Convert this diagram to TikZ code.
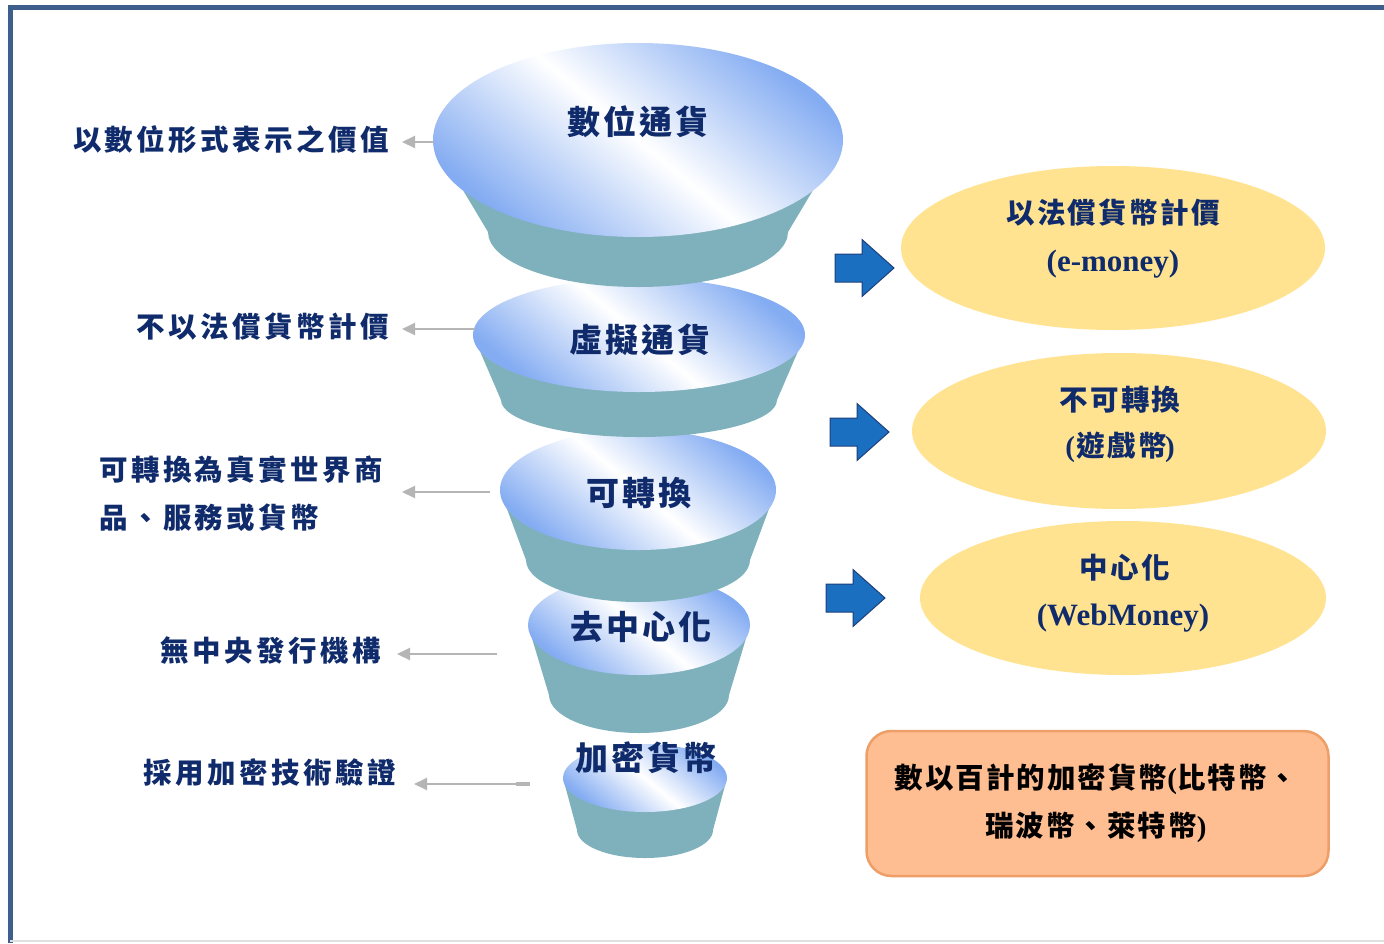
\documentclass[tikz,border=0pt]{standalone}
\usepackage{fontspec}
\setmainfont{Liberation Serif}
\newfontfamily\cjk{Noto Sans CJK TC}
\usetikzlibrary{arrows.meta}
\definecolor{navy}{HTML}{0F2B6B}
\definecolor{frameblue}{HTML}{3E5F8C}
\definecolor{teal1}{HTML}{7FB1BD}
\definecolor{skyb}{HTML}{84ACF2}
\definecolor{arrowblue}{HTML}{1B6FC0}
\definecolor{arrowedge}{HTML}{1F3F7A}
\definecolor{ellyellow}{HTML}{FFE391}
\definecolor{boxfill}{HTML}{FFBD92}
\definecolor{boxedge}{HTML}{EE9F68}
\definecolor{graya}{HTML}{B5B5B5}
\newcommand{\fdisk}[7]{%
  \fill[teal1] (#1-#3,#2) -- (#1-#6,#5) -- (#1+#6,#5) -- (#1+#3,#2) -- cycle;
  \fill[teal1] (#1,#5) ellipse ({#6} and {#7});
  \shade[top color=skyb, bottom color=skyb, middle color=white, shading angle=-40] (#1,#2) ellipse ({#3} and {#4});
}
\tikzset{
  disktxt/.style={font=\cjk\bfseries\fontsize{33}{36}\selectfont\addfontfeature{LetterSpace=9}, text=navy, inner sep=0pt},
  lbl/.style={font=\cjk\bfseries\fontsize{28.5}{48}\selectfont\addfontfeature{LetterSpace=12}, text=navy, inner sep=0pt},
  elltxt/.style={font=\cjk\bfseries\fontsize{28.5}{30}\selectfont\addfontfeature{LetterSpace=8}, text=navy, inner sep=0pt},
  lattxt/.style={font=\bfseries\fontsize{31}{34}\selectfont, text=navy, inner sep=0pt},
  boxtxt/.style={font=\cjk\bfseries\fontsize{28.5}{48}\selectfont\addfontfeature{LetterSpace=7}, text=black, inner sep=0pt, align=center},
  grayarrow/.style={draw=graya, line width=2pt, -{Triangle[length=13pt,width=12pt]}},
  pics/barrow/.style={code={
    \fill[arrowblue, draw=arrowedge, line width=1pt] (0,-14) -- (27,-14) -- (27,-28.5) -- (59,0) -- (27,28.5) -- (27,14) -- (0,14) -- cycle;
  }}
}
\begin{document}
\begin{tikzpicture}[x=1pt,y=-1pt]
\useasboundingbox (0,0) rectangle (1384,943);
\fill[white] (0,0) rectangle (1384,943);
% frame
\draw[frameblue, line width=5pt] (8,7.5) -- (1384,7.5);
\draw[frameblue, line width=5pt] (10.5,5) -- (10.5,943);
\draw[black!12, line width=1.5pt] (10,941) -- (1384,941);

% funnel disks, bottom first
\fdisk{645}{778}{82}{34}{830}{68}{28}
\fdisk{639}{625}{111}{50}{695}{90}{38}
\fdisk{638}{490}{138}{60}{560}{112}{42}
\fdisk{639}{335}{166}{57}{400}{138}{37}
\fdisk{638}{140}{205}{97}{232}{150}{55}

\node[disktxt] (d1) at (638,122) {數位通貨};
\node[disktxt] (d2) at (640,340) {虛擬通貨};
\node[disktxt] (d3) at (639,493) {可轉換};
\node[disktxt] (d4) at (641,627) {去中心化};
\node[disktxt] (d5) at (646,758) {加密貨幣};

% disk left edges (arrow tails) and arrow tips
\coordinate (t1) at (434,142);
\coordinate (t2) at (475,329);
\coordinate (t3) at (490,492);
\coordinate (t4) at (497,654);
\coordinate (t5) at (530,784);
\coordinate (h1) at (402,142);
\coordinate (h2) at (402,329);
\coordinate (h3) at (402,492);
\coordinate (h4) at (397,654);
\coordinate (h5) at (414,784);

% left labels
\node[lbl, anchor=east] (l1) at (389,140) {以數位形式表示之價值};
\node[lbl, anchor=east] (l2) at (389,327) {不以法償貨幣計價};
\node[lbl, anchor=west, align=left] (l3) at (99,494) {可轉換為真實世界商\\品、服務或貨幣};
\node[lbl, anchor=east] (l4) at (381,651) {無中央發行機構};
\node[lbl, anchor=east] (l5) at (396,773) {採用加密技術驗證};

\draw[grayarrow] (t1) -- (h1);
\draw[grayarrow] (t2) -- (h2);
\draw[grayarrow] (t3) -- (h3);
\draw[grayarrow] (t4) -- (h4);
\draw[grayarrow] (t5) -- (h5);
\draw[graya, line width=4.5pt] (t5) -- ++(-14,0);

% blue block arrows
\pic (b1) at (835,268) {barrow};
\pic (b2) at (830,432) {barrow};
\pic (b3) at (826,598) {barrow};

% yellow ellipses
\fill[ellyellow] (1113,248) ellipse (212 and 82);
\fill[ellyellow] (1119,431) ellipse (207 and 78);
\fill[ellyellow] (1123,598) ellipse (203 and 77);
\node[elltxt] (e1a) at (1113,213) {以法償貨幣計價};
\node[lattxt] (e1b) at (1113,264) {(e-money)};
\node[elltxt] (e2a) at (1120,400) {不可轉換};
\node[lattxt, font=\bfseries\fontsize{29}{32}\selectfont] (e2b) at (1120,447) {(\hspace{2pt}{\cjk\fontsize{28.5}{30}\selectfont\addfontfeature{LetterSpace=8}遊戲幣}\hspace{-2pt})};
\node[elltxt] (e3a) at (1125,568) {中心化};
\node[lattxt] (e3b) at (1123,618) {(WebMoney)};

% orange box
\node[draw=boxedge, line width=2.5pt, fill=boxfill, rounded corners=25pt, minimum width=462pt, minimum height=145pt] (box) at (1097.5,803.5) {};
\node[boxtxt] (bt) at (1096,803) {數以百計的加密貨幣{\rmfamily\fontsize{29}{32}\selectfont(}比特幣、\\瑞波幣、萊特幣{\rmfamily\fontsize{29}{32}\selectfont)}};
\end{tikzpicture}
\end{document}
